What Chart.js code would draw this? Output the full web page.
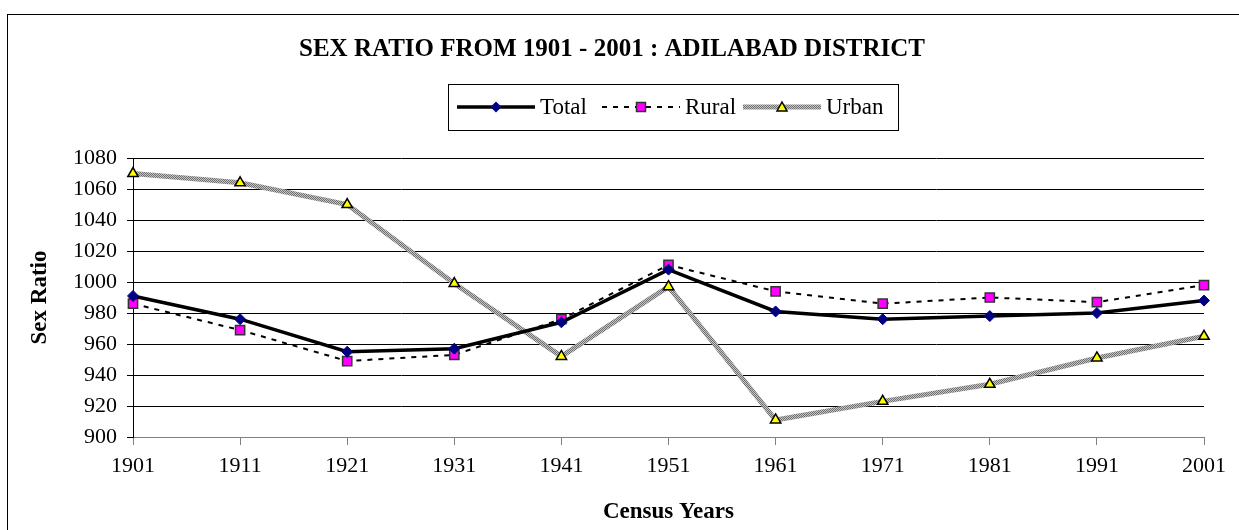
<!DOCTYPE html>
<html>
<head>
<meta charset="utf-8">
<script src="https://cdn.jsdelivr.net/npm/chart.js@4/dist/chart.umd.min.js"></script>
<style>
  html, body { margin: 0; padding: 0; background: #fff; }
  #wrap { width: 1239px; height: 530px; }
</style>
</head>
<body>
<div id="wrap"><canvas id="chart-id" width="1239" height="530"></canvas></div>
<script>
'use strict';

var censusYears = ['1901', '1911', '1921', '1931', '1941', '1951', '1961', '1971', '1981', '1991', '2001'];
var totalRatio = [991, 976, 955, 957, 974, 1008, 981, 976, 978, 980, 988];
var ruralRatio = [986, 969, 949, 953, 976, 1011, 994, 986, 990, 987, 998];
var urbanRatio = [1070, 1064, 1050, 999, 952, 997, 911, 923, 934, 951, 965];
var yTicks = [900, 920, 940, 960, 980, 1000, 1020, 1040, 1060, 1080];

var serif = "'Times New Roman', 'Liberation Serif', serif";

//grey hatched look of the urban line
function makeHatch(){
  var c = document.createElement('canvas');
  c.width = 2;
  c.height = 2;
  var g = c.getContext('2d');
  g.fillStyle = '#c4c4c4';
  g.fillRect(0, 0, 2, 2);
  g.fillStyle = '#707070';
  g.fillRect(0, 0, 1, 1);
  g.fillRect(1, 1, 1, 1);
  return document.getElementById('chart-id').getContext('2d').createPattern(c, 'repeat');
}
var hatch = makeHatch();

//outer frame of the chart
var framePlugin = {
  id: 'frame',
  beforeDraw: function(chart){
    var ctx = chart.ctx;
    ctx.save();
    ctx.fillStyle = '#fff';
    ctx.fillRect(0, 0, chart.width, chart.height);
    ctx.strokeStyle = '#000';
    ctx.lineWidth = 1;
    ctx.strokeRect(7.5, 14.5, 1240, 530);
    ctx.restore();
  }
};

function drawMarker(ctx, style, x, y){
  ctx.save();
  ctx.beginPath();
  if(style === 'rectRot'){
    ctx.moveTo(x, y - 5.5);
    ctx.lineTo(x + 5.5, y);
    ctx.lineTo(x, y + 5.5);
    ctx.lineTo(x - 5.5, y);
    ctx.closePath();
    ctx.fillStyle = '#000080';
    ctx.fill();
  }else if(style === 'rect'){
    ctx.rect(x - 4.5, y - 4.5, 9, 9);
    ctx.fillStyle = '#ff00ff';
    ctx.fill();
    ctx.lineWidth = 1.5;
    ctx.strokeStyle = '#333';
    ctx.stroke();
  }else{
    ctx.moveTo(x, y - 5);
    ctx.lineTo(x + 5, y + 4);
    ctx.lineTo(x - 5, y + 4);
    ctx.closePath();
    ctx.fillStyle = '#ffff00';
    ctx.fill();
    ctx.lineWidth = 1.5;
    ctx.strokeStyle = '#000';
    ctx.stroke();
  }
  ctx.restore();
}

//legend in a box, line sample with marker in the middle like the original
var boxLegend = {
  id: 'boxLegend',
  afterDraw: function(chart){
    var ctx = chart.ctx;
    var left = 448, top = 84, right = 898, bottom = 130;
    var cy = (top + bottom) / 2;
    ctx.save();
    ctx.strokeStyle = '#000';
    ctx.lineWidth = 1;
    ctx.strokeRect(left + 0.5, top + 0.5, right - left, bottom - top);
    var sampleStarts = [457, 602, 743];
    var sampleWidth = 78;
    ctx.font = '23px ' + serif;
    ctx.textBaseline = 'middle';
    ctx.fillStyle = '#000';
    chart.data.datasets.forEach(function(ds, i){
      var x0 = sampleStarts[i];
      ctx.save();
      ctx.beginPath();
      ctx.setLineDash(ds.borderDash || []);
      ctx.lineWidth = ds.borderWidth;
      ctx.strokeStyle = ds.borderColor;
      ctx.moveTo(x0, cy);
      ctx.lineTo(x0 + sampleWidth, cy);
      ctx.stroke();
      ctx.restore();
      drawMarker(ctx, ds.pointStyle, x0 + sampleWidth / 2, cy);
      ctx.fillText(ds.label, x0 + sampleWidth + 5, cy + 1);
    });
    ctx.restore();
  }
};

var ctx = document.getElementById('chart-id').getContext('2d');
var chart = new Chart(ctx, {
  type: 'line',
  data: {
    labels: censusYears,
    datasets: [
      {
        label: 'Total',
        data: totalRatio,
        borderColor: '#000',
        borderWidth: 3.5,
        pointStyle: 'rectRot',
        pointRadius: 5.5,
        pointBackgroundColor: '#000080',
        pointBorderColor: '#000080',
        pointBorderWidth: 1
      },
      {
        label: 'Rural',
        data: ruralRatio,
        borderColor: '#000',
        borderWidth: 2,
        borderDash: [5, 6],
        pointStyle: 'rect',
        pointRadius: 6.5,
        pointBackgroundColor: '#ff00ff',
        pointBorderColor: '#333',
        pointBorderWidth: 1.5
      },
      {
        label: 'Urban',
        data: urbanRatio,
        borderColor: hatch,
        borderWidth: 5,
        pointStyle: 'triangle',
        pointRadius: 6,
        pointBackgroundColor: '#ffff00',
        pointBorderColor: '#000',
        pointBorderWidth: 1.5
      }
    ]
  },
  options: {
    responsive: false,
    animation: false,
    events: [],
    elements: { line: { tension: 0, fill: false } },
    layout: { padding: { left: 20, right: 35, top: 0, bottom: 4 } },
    plugins: {
      legend: { display: false },
      tooltip: { enabled: false },
      title: {
        display: true,
        text: 'SEX RATIO FROM 1901 - 2001 : ADILABAD DISTRICT',
        color: '#000',
        font: { family: serif, size: 25, weight: 'bold' },
        padding: { top: 35, bottom: 93 }
      }
    },
    scales: {
      x: {
        grid: { drawOnChartArea: false, drawTicks: true, tickLength: 8, color: '#808080' },
        border: { display: true, color: '#808080', width: 1 },
        ticks: { color: '#000', padding: 8, maxRotation: 0, autoSkip: false, font: { family: serif, size: 22 } },
        title: {
          display: true,
          text: 'Census Years',
          color: '#000',
          font: { family: serif, size: 23, weight: 'bold' },
          padding: { top: 14, bottom: 0 }
        },
        afterFit: function(scale){ scale.height = 89; }
      },
      y: {
        min: 900,
        max: 1080,
        afterBuildTicks: function(scale){
          scale.ticks = yTicks.map(function(v){ return { value: v }; });
        },
        grid: { color: '#000', lineWidth: 1, drawTicks: true, tickLength: 6 },
        border: { display: true, color: '#000', width: 1 },
        ticks: {
          color: '#000',
          padding: 10,
          font: { family: serif, size: 22 },
          callback: function(value){ return String(value); }
        },
        title: {
          display: true,
          text: 'Sex Ratio',
          color: '#000',
          font: { family: serif, size: 23, weight: 'bold' },
          padding: { top: 6, bottom: 0 }
        },
        afterFit: function(scale){ scale.width = 113; }
      }
    }
  },
  plugins: [framePlugin, boxLegend]
});
</script>
</body>
</html>
